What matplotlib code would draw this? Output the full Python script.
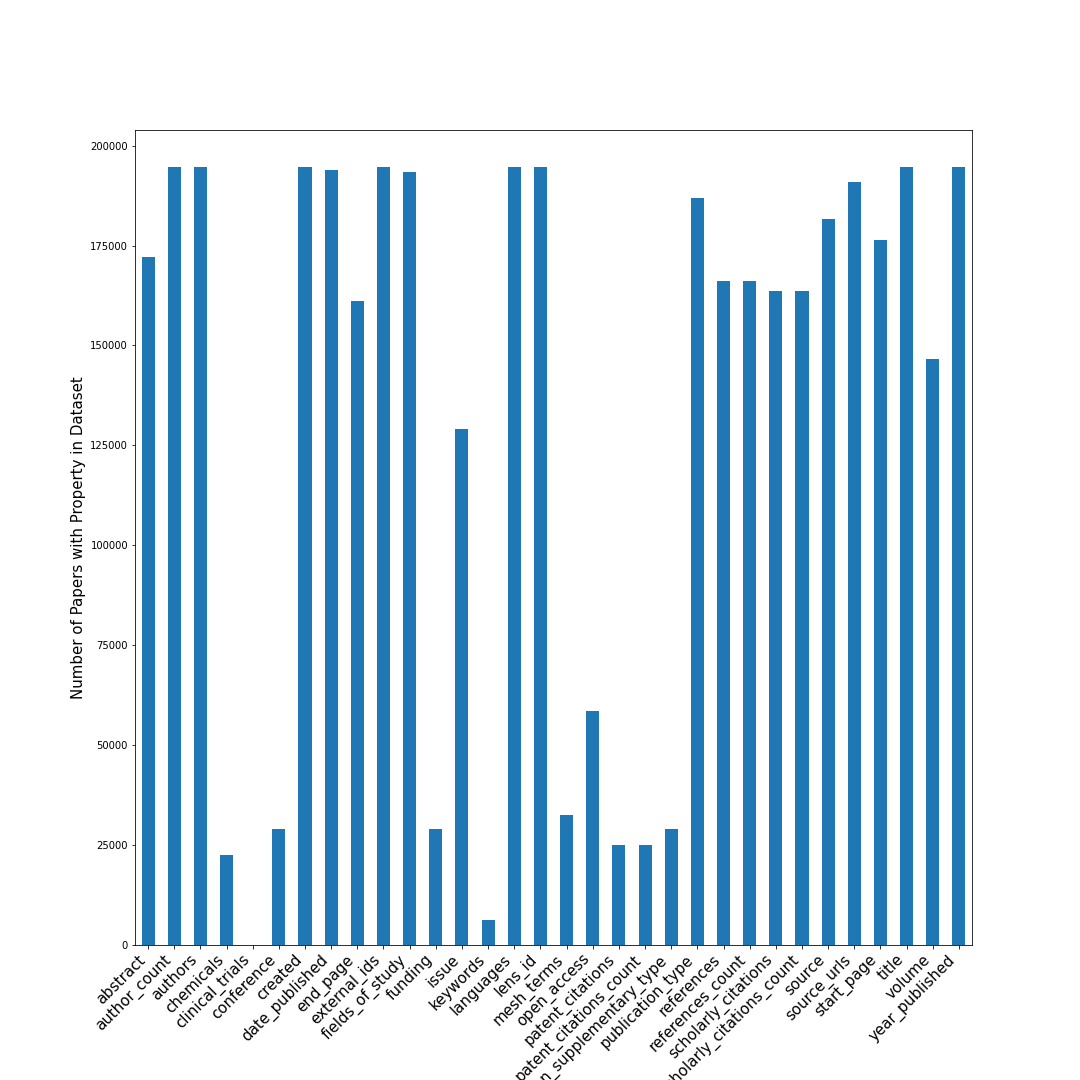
import matplotlib
matplotlib.use("Agg")
import matplotlib.pyplot as plt
import numpy as np

categories = ["abstract", "author_count", "authors", "chemicals", "clinical_trials",
              "conference", "created", "date_published", "end_page", "external_ids",
              "fields_of_study", "funding", "issue", "keywords", "languages", "lens_id",
              "mesh_terms", "open_access", "patent_citations", "patent_citations_count",
              "publication_supplementary_type", "publication_type", "references",
              "references_count", "scholarly_citations", "scholarly_citations_count",
              "source", "source_urls", "start_page", "title", "volume", "year_published"]
counts = [172100, 194600, 194600, 22600, 0,
          28900, 194600, 193900, 161200, 194600,
          193400, 29100, 129000, 6300, 194600, 194600,
          32600, 58600, 25100, 25100,
          28900, 186800, 166100,
          166100, 163600, 163600,
          181700, 191000, 176300, 194600, 146500, 194600]
yticks = [0, 25000, 50000, 75000, 100000, 125000, 150000, 175000, 200000]

fig = plt.figure(figsize=(15, 15), dpi=72)
ax = fig.add_axes([0.125, 0.125, 0.775, 0.755])
x = np.arange(len(categories))
ax.bar(x, counts, width=0.5, color="#1f77b4")
ax.set_xlim(-0.5, len(categories) - 0.5)
ax.set_ylim(0, 204000)
ax.set_yticks(yticks)
ax.set_yticklabels([str(v) for v in yticks], fontsize=10)
ax.set_xticks(x)
ax.set_xticklabels(categories, rotation=45, ha="right", fontsize=15)
ax.set_ylabel("Number of Papers with Property in Dataset", fontsize=15)
fig.savefig("out.png", dpi=72)
